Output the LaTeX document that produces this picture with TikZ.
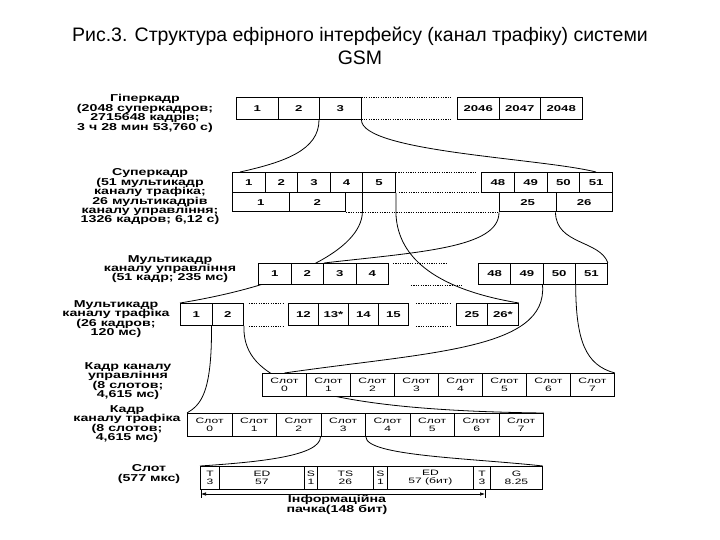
\documentclass[tikz,border=0pt]{standalone}
\usepackage{fontspec}
\setmainfont{Liberation Sans}
\newfontfamily\lblf[FakeStretch=1.42]{Liberation Sans}
\newfontfamily\cellf[FakeStretch=1.55]{Liberation Sans}
\usetikzlibrary{calc,arrows.meta}
\pgfdeclarelayer{bg}
\pgfsetlayers{bg,main}
\tikzset{
  cellbox/.style={draw, fill=white, line width=0.9pt, inner sep=0pt, anchor=north west,
    font=\cellf\bfseries\fontsize{8.5}{8.5}\selectfont, align=center},
  slotbox/.style={cellbox, font=\cellf\fontsize{7.8}{8.3}\selectfont},
  lbltext/.style={font=\lblf\bfseries\fontsize{10}{9.4}\selectfont, align=center, inner sep=0pt},
  conn/.style={line width=0.8pt},
  dotline/.style={line width=0.8pt, dash pattern=on 1.2pt off 1.2pt}
}
\begin{document}
\begin{tikzpicture}[x=1pt,y=-1pt]
\useasboundingbox (0,0) rectangle (720,540);
\begin{pgfonlayer}{bg}
\fill[white] (0,0) rectangle (720,540);
\end{pgfonlayer}

% title
\node[font=\fontsize{19.5}{23}\selectfont, align=center, inner sep=0pt] (title) at (360,46)
  {Рис.3. Структура ефірного інтерфейсу (канал трафіку) системи\\GSM};

% labels
\node[lbltext] (lhyper) at (145,113.5) {Гіперкадр\\(2048 суперкадров;\\2715648 кадрів;\\3 ч 28 мин 53,760 с)};
\node[lbltext] (lsuper) at (150,197) {Суперкадр\\(51 мультикадр\\каналу трафіка;\\26 мультикадрів\\каналу управління;\\1326 кадров; 6,12 с)};
\node[lbltext] (lcm) at (170,269) {Мультикадр\\каналу управління\\(51 кадр; 235 мс)};
\node[lbltext] (ltm) at (116,319) {Мультикадр\\каналу трафіка\\(26 кадров;\\120 мс)};
\node[lbltext] (lcf) at (128,381) {Кадр каналу\\управління\\(8 слотов;\\4,615 мс)};
\node[lbltext] (ltf) at (127,424) {Кадр\\каналу трафіка\\(8 слотов;\\4,615 мс)};
\node[lbltext] (lsl) at (149,474) {Слот\\(577 мкс)};

% hyperframe
\foreach \t [count=\i] in {1,2,3}
  \node[cellbox, minimum width=41.5, minimum height=22] (h\i) at ({236+(\i-1)*41.5},97) {\t};
\foreach \t [count=\i] in {2046,2047,2048}
  \node[cellbox, minimum width=41.5, minimum height=22] (hr\i) at ({457+(\i-1)*41.5},97) {\t};
\draw[dotline] (h3.north east) -- ($(hr1.north west)+(-5,0)$);
\draw[dotline] (h3.south east) -- ($(hr1.south west)+(-5,0)$);

% superframe
\foreach \t [count=\i] in {1,2,3,4,5}
  \node[cellbox, minimum width=32.6, minimum height=20] (s\i) at ({232+(\i-1)*32.6},172) {\t};
\foreach \t [count=\i] in {48,49,50,51}
  \node[cellbox, minimum width=32.75, minimum height=20] (sr\i) at ({481+(\i-1)*32.75},172) {\t};
\foreach \t [count=\i] in {1,2}
  \node[cellbox, minimum width=56.5, minimum height=19.5] (c\i) at ({232+(\i-1)*56.5},192) {\t};
\foreach \t [count=\i] in {25,26}
  \node[cellbox, minimum width=56.5, minimum height=19.5] (cr\i) at ({499+(\i-1)*56.5},192) {\t};
\draw[dotline] (s5.north east) -- ($(sr1.north west)+(-5,0)$);
\draw[dotline] ($(s5.south east)+(3,0)$) -- (sr1.south west);
\draw[dotline] (c2.south east) -- (cr1.south west);

% control multiframe
\foreach \t [count=\i] in {1,2,3,4}
  \node[cellbox, minimum width=32.5, minimum height=21] (m\i) at ({258+(\i-1)*32.5},263) {\t};
\foreach \t [count=\i] in {48,49,50,51}
  \node[cellbox, minimum width=32.25, minimum height=21] (mr\i) at ({478+(\i-1)*32.25},263) {\t};
\draw[dotline] ($(m4.north east)+(4,0)$) -- ($(mr1.north west)+(-31,0)$);
\draw[dotline] ($(m4.south east)+(22,0)$) -- ($(mr1.south west)+(-16,0)$);

% traffic multiframe
\foreach \t [count=\i] in {1,2}
  \node[cellbox, minimum width=31.5, minimum height=22] (t\i) at ({180+(\i-1)*31.5},303) {\t};
\foreach \t [count=\i] in {12,13*,14,15}
  \node[cellbox, minimum width=30, minimum height=22] (tm\i) at ({288+(\i-1)*30},303) {\t};
\foreach \t [count=\i] in {25,26*}
  \node[cellbox, minimum width=31, minimum height=22] (tr\i) at ({456+(\i-1)*31},303) {\t};
\draw[dotline] ($(t2.north east)+(5,0)$) -- ($(tm1.north west)+(-5,0)$);
\draw[dotline] ($(t2.south east)+(5,0)$) -- ($(tm1.south west)+(-5,0)$);
\draw[dotline] ($(tm4.north east)+(7,0)$) -- ($(tr1.north west)+(-6,0)$);
\draw[dotline] ($(tm4.south east)+(7,0)$) -- ($(tr1.south west)+(-6,0)$);

% control frame
\foreach \i in {0,...,7}
  \node[slotbox, minimum width=44, minimum height=23] (cf\i) at ({262+\i*44},373) {Слот\\\i};
% traffic frame
\foreach \i in {0,...,7}
  \node[slotbox, minimum width=44.5, minimum height=23] (tf\i) at ({187+\i*44.5},413) {Слот\\\i};

% slot
\node[slotbox, minimum width=19, minimum height=23] (sl1) at (200,466) {T\\3};
\node[slotbox, minimum width=85, minimum height=23] (sl2) at (219,466) {ED\\57};
\node[slotbox, minimum width=13, minimum height=23] (sl3) at (304,466) {S\\1};
\node[slotbox, minimum width=56, minimum height=23] (sl4) at (317,466) {TS\\26};
\node[slotbox, minimum width=14, minimum height=23] (sl5) at (373,466) {S\\1};
\node[slotbox, minimum width=86, minimum height=23] (sl6) at (387,466) {ED\\57 (бит)};
\node[slotbox, minimum width=17, minimum height=23] (sl7) at (473,466) {T\\3};
\node[slotbox, minimum width=52, minimum height=23] (sl8) at (490,466) {G\\8.25};

\coordinate (infoL) at (201,494);
\coordinate (infoR) at (485,494);
\draw[conn, line width=0.6pt, {Latex[length=5pt,width=3.5pt]}-{Latex[length=5pt,width=3.5pt]}] (infoL) -- (infoR);
\draw[conn] ($(infoL)+(0,-4)$) -- ($(infoL)+(0,4)$);
\draw[conn] ($(infoR)+(0,-4)$) -- ($(infoR)+(0,4)$);
\node[lbltext] (info) at (337,505) {Інформаційна\\пачка(148 бит)};

% connectors
\begin{pgfonlayer}{bg}
\draw[conn] (h3.south west) .. controls (319,150) and (285,162) .. ($(s1.north west)+(8,0)$);
\draw[conn] (h3.south east) .. controls (362,152) and (540,158) .. (sr4.north);
\draw[conn] (s5.south west) -- ++(0,19.5) .. controls (361,250) and (290,285) .. (t1.north west);
\draw[conn] (s5.south east) -- ++(0,19.5) .. controls (397,260) and (440,290) .. (tr2.north east);
\draw[conn] (cr1.south west) .. controls (499,248) and (420,252) .. (m2.north east);
\draw[conn] (cr2.south west) .. controls (556,245) and (600,240) .. (mr4.north east);
\draw[conn] (t2.south west) .. controls (212,395) and (200,405) .. (tf0.north west);
\draw[conn] (t2.south east) .. controls (243,370) and (280,410) .. (tf7.north east);
\draw[conn] (mr3.south west) .. controls (548,350) and (430,352) .. (cf0.north);
\draw[conn] (mr3.south east) .. controls (576,340) and (585,365) .. (cf7.north east);
\draw[conn] (tf3.south west) .. controls (320,456) and (260,462) .. (sl1.north west);
\draw[conn] (tf3.south east) .. controls (366,456) and (470,458) .. (sl8.north east);
\end{pgfonlayer}
\end{tikzpicture}
\end{document}
